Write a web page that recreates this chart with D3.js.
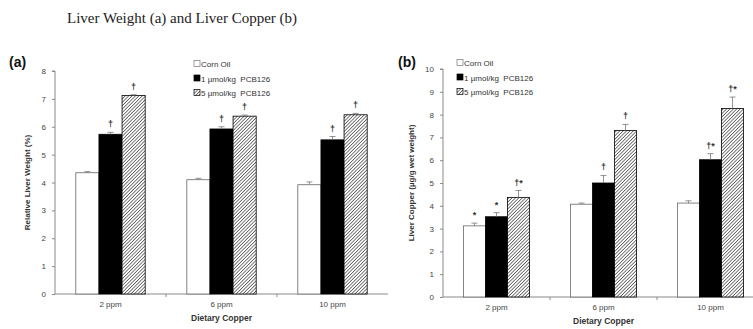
<!DOCTYPE html>
<html>
<head>
<meta charset="utf-8">
<script src="https://cdn.jsdelivr.net/npm/d3@7"></script>
<style>
  body { margin: 0; background: #fff; }
  svg { display: block; }
  .tick text { font-family: "Liberation Sans", Arial, sans-serif; font-size: 8px; fill: #444; }
  .axis path, .axis line { stroke: #8a8a8a; }
</style>
</head>
<body>
<script>
// Data
const doses = ["2 ppm", "6 ppm", "10 ppm"];
const groups = ["Corn Oil", "1 \u00b5mol/kg  PCB126", "5 \u00b5mol/kg  PCB126"];

const liverWeight = [
  [4.35, 4.10, 3.92],   // corn oil
  [5.73, 5.92, 5.53],   // 1 umol/kg
  [7.12, 6.38, 6.43]    // 5 umol/kg
];
const liverWeightErr = [
  [0.04, 0.05, 0.10],
  [0.07, 0.08, 0.12],
  [0.03, 0.04, 0.05]
];
const liverWeightMarks = [
  ["", "", ""],
  ["\u2020", "\u2020", "\u2020"],
  ["\u2020", "\u2020", "\u2020"]
];

const liverCopper = [
  [3.12, 4.07, 4.12],
  [3.52, 5.00, 6.02],
  [4.37, 7.30, 8.27]
];
const liverCopperErr = [
  [0.12, 0.05, 0.10],
  [0.18, 0.33, 0.27],
  [0.30, 0.27, 0.50]
];
const liverCopperMarks = [
  ["*", "", ""],
  ["*", "\u2020", "\u2020*"],
  ["\u2020*", "\u2020", "\u2020*"]
];

const width = 753, height = 329;
const svg = d3.select("body").append("svg")
  .attr("width", width)
  .attr("height", height);

// hatch pattern for the 5 umol/kg bars
const defs = svg.append("defs");
const pat = defs.append("pattern")
  .attr("id", "hatch")
  .attr("patternUnits", "userSpaceOnUse")
  .attr("width", 2.4).attr("height", 2.4)
  .attr("patternTransform", "rotate(45)");
pat.append("rect").attr("width", 2.4).attr("height", 2.4).attr("fill", "#fff");
pat.append("line")
  .attr("x1", 0).attr("y1", 0).attr("x2", 0).attr("y2", 2.4)
  .attr("stroke", "#333").attr("stroke-width", 1.3);

const fills = ["#fff", "#000", "url(#hatch)"];

// Title
svg.append("text")
  .attr("x", 67).attr("y", 23)
  .style("font-family", "'Liberation Serif', 'DejaVu Serif', serif")
  .style("font-size", "15px")
  .style("fill", "#222")
  .text("Liver Weight (a) and Liver Copper (b)");

function drawPanel(opt) {
  const g = svg.append("g");

  const x0 = d3.scaleBand().domain(doses).range([opt.left, opt.right]);
  const x1 = d3.scaleBand().domain(d3.range(groups.length))
    .range([0, x0.bandwidth()]).paddingOuter(opt.outer);
  const y = d3.scaleLinear().domain([0, opt.yMax]).range([opt.bottom, opt.top]);

  // y axis
  g.append("g")
    .attr("class", "axis")
    .attr("transform", "translate(" + opt.left + ",0)")
    .call(d3.axisLeft(y).ticks(opt.yMax).tickSize(3).tickSizeOuter(3).tickPadding(6))
    .call(a => a.select(".domain").attr("d", "M-3," + opt.top + "H0V" + opt.bottom));

  // x axis
  const xa = g.append("g")
    .attr("class", "axis")
    .attr("transform", "translate(0," + opt.bottom + ")");
  xa.append("line")
    .attr("x1", opt.left).attr("x2", opt.right)
    .attr("stroke", "#8a8a8a");
  xa.selectAll(".sep")
    .data(doses.slice(1))
    .enter().append("line")
    .attr("x1", d => x0(d)).attr("x2", d => x0(d))
    .attr("y1", 0).attr("y2", 3)
    .attr("stroke", "#8a8a8a");
  xa.selectAll(".lab")
    .data(doses)
    .enter().append("text")
    .attr("x", d => x0(d) + x0.bandwidth() / 2)
    .attr("y", 13)
    .attr("text-anchor", "middle")
    .style("font-family", "'Liberation Sans', Arial, sans-serif")
    .style("font-size", "8px")
    .style("fill", "#444")
    .text(d => d);

  // bars
  groups.forEach(function(gr, i) {
    const bars = g.selectAll(".bar" + i)
      .data(doses)
      .enter().append("g");

    bars.append("rect")
      .attr("x", (d, j) => x0(d) + x1(i))
      .attr("y", (d, j) => y(opt.values[i][j]))
      .attr("width", x1.bandwidth())
      .attr("height", (d, j) => opt.bottom - y(opt.values[i][j]))
      .attr("fill", fills[i])
      .attr("stroke", i === 0 ? "#666" : "#000")
      .attr("stroke-width", 0.8);

    // error bars (upper only)
    bars.append("line")
      .attr("x1", (d, j) => x0(d) + x1(i) + x1.bandwidth() / 2)
      .attr("x2", (d, j) => x0(d) + x1(i) + x1.bandwidth() / 2)
      .attr("y1", (d, j) => y(opt.values[i][j]))
      .attr("y2", (d, j) => y(opt.values[i][j] + opt.errors[i][j]))
      .attr("stroke", "#777").attr("stroke-width", 0.8);
    bars.append("line")
      .attr("x1", (d, j) => x0(d) + x1(i) + x1.bandwidth() / 2 - 3)
      .attr("x2", (d, j) => x0(d) + x1(i) + x1.bandwidth() / 2 + 3)
      .attr("y1", (d, j) => y(opt.values[i][j] + opt.errors[i][j]))
      .attr("y2", (d, j) => y(opt.values[i][j] + opt.errors[i][j]))
      .attr("stroke", "#777").attr("stroke-width", 0.8);

    // significance marks
    bars.append("text")
      .attr("x", (d, j) => x0(d) + x1(i) + x1.bandwidth() / 2)
      .attr("y", (d, j) => y(opt.values[i][j] + opt.errors[i][j]) - 5)
      .attr("text-anchor", "middle")
      .style("font-family", "'Liberation Sans', Arial, sans-serif")
      .style("font-size", "9px")
      .style("font-weight", "bold")
      .style("fill", "#333")
      .text((d, j) => opt.marks[i][j]);
  });

  // axis titles
  g.append("text")
    .attr("transform", "translate(" + opt.yLabelX + "," + ((opt.top + opt.bottom) / 2) + ") rotate(-90)")
    .attr("text-anchor", "middle")
    .style("font-family", "'Liberation Sans', Arial, sans-serif")
    .style("font-size", "8px")
    .style("font-weight", "bold")
    .style("fill", "#333")
    .text(opt.yLabel);

  g.append("text")
    .attr("x", (opt.left + opt.left + 3 * x0.bandwidth()) / 2)
    .attr("y", opt.bottom + 27)
    .attr("text-anchor", "middle")
    .style("font-family", "'Liberation Sans', Arial, sans-serif")
    .style("font-size", "8.5px")
    .style("font-weight", "bold")
    .style("fill", "#333")
    .text("Dietary Copper");

  // panel letter
  g.append("text")
    .attr("x", opt.letterX).attr("y", opt.letterY)
    .style("font-family", "'Liberation Sans', Arial, sans-serif")
    .style("font-size", "14px")
    .style("font-weight", "bold")
    .style("fill", "#111")
    .text(opt.letter);

  // legend
  const lg = g.selectAll(".leg")
    .data(groups)
    .enter().append("g")
    .attr("transform", (d, i) => "translate(" + opt.legX + "," + (opt.legY + i * 14.5) + ")");
  lg.append("rect")
    .attr("x", 0).attr("y", -3.5)
    .attr("width", 6).attr("height", 6)
    .attr("fill", (d, i) => fills[i])
    .attr("stroke", (d, i) => i === 0 ? "#777" : "#000")
    .attr("stroke-width", 0.7);
  lg.append("text")
    .attr("x", 7).attr("y", 3)
    .style("font-family", "'Liberation Sans', Arial, sans-serif")
    .style("font-size", "8px")
    .style("fill", "#333")
    .attr("xml:space", "preserve")
    .text(d => d);
}

drawPanel({
  left: 55, right: 388, top: 71, bottom: 294, yMax: 8,
  outer: 0.9,
  values: liverWeight, errors: liverWeightErr, marks: liverWeightMarks,
  yLabel: "Relative Liver Weight (%)", yLabelX: 30,
  letter: "(a)", letterX: 9, letterY: 67,
  legX: 194, legY: 64
});

drawPanel({
  left: 443, right: 764, top: 69, bottom: 297, yMax: 10,
  outer: 0.93,
  values: liverCopper, errors: liverCopperErr, marks: liverCopperMarks,
  yLabel: "Liver Copper (\u00b5g/g wet weight)", yLabelX: 414,
  letter: "(b)", letterX: 398, letterY: 67,
  legX: 457, legY: 63
});
</script>
</body>
</html>
